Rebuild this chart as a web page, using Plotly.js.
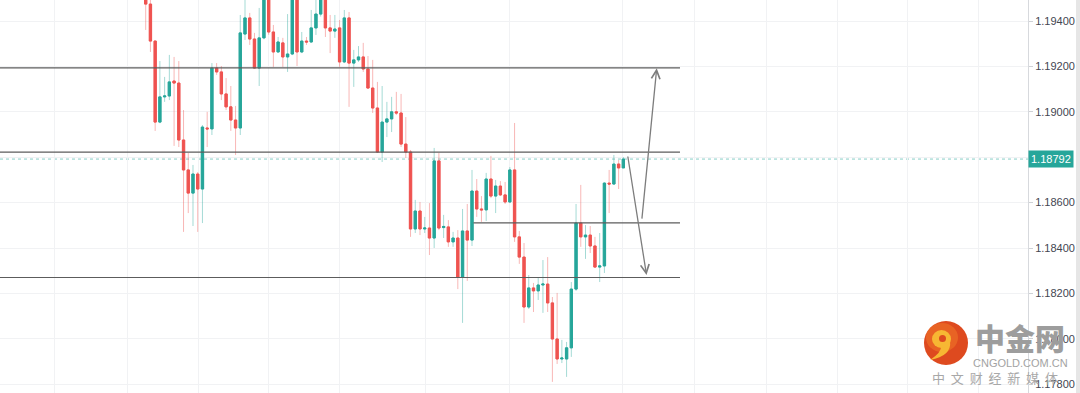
<!DOCTYPE html>
<html>
<head>
<meta charset="utf-8">
<script src="https://cdn.plot.ly/plotly-3.0.1.min.js"></script>
<style>html,body{margin:0;padding:0;background:#fff;}#chart{width:1080px;height:393px;}</style>
</head>
<body>
<div id="chart"></div>
<script>
// ---- data ----
const opens = [1.19528,1.19475,1.19312,1.18955,1.19066,1.19070,1.19136,1.19127,1.18876,1.18744,
1.18642,1.18726,1.18660,1.18929,1.18925,1.19193,1.19176,1.19079,1.19022,1.18964,
1.18929,1.19343,1.19414,1.19321,1.19193,1.19326,1.19510,1.19352,1.19264,1.19304,
1.19242,1.19255,1.19510,1.19264,1.19312,1.19308,1.19370,1.19431,1.19505,1.19370,
1.19356,1.19370,1.19220,1.19414,1.19215,1.19229,1.19242,1.19189,1.19105,1.19017,
1.18823,1.18955,1.18969,1.19000,1.18995,1.18858,1.18823,1.18484,1.18563,1.18484,
1.18488,1.18444,1.18784,1.18490,1.18493,1.18427,1.18444,1.18272,1.18475,1.18435,
1.18651,1.18572,1.18568,1.18704,1.18629,1.18673,1.18634,1.18603,1.18744,1.18449,
1.18360,1.18140,1.18224,1.18211,1.18237,1.18241,1.18158,1.17999,1.17911,1.17911,
1.17960,1.18219,1.18510,1.18449,1.18457,1.18409,1.18316,1.18321,1.18686,1.18682,
1.18770,1.18753];
const highs = [1.19537,1.19500,1.19315,1.19224,1.19154,1.19251,1.19242,1.19224,1.19008,1.18819,
1.18766,1.18735,1.18942,1.19000,1.19215,1.19215,1.19202,1.19149,1.19114,1.19026,
1.19427,1.19502,1.19436,1.19348,1.19458,1.19540,1.19530,1.19383,1.19330,1.19326,
1.19431,1.19540,1.19530,1.19352,1.19330,1.19449,1.19493,1.19530,1.19520,1.19427,
1.19427,1.19405,1.19449,1.19440,1.19273,1.19290,1.19304,1.19246,1.19229,1.19132,
1.19114,1.19044,1.19066,1.19088,1.19079,1.18977,1.18832,1.18612,1.18603,1.18537,
1.18598,1.18841,1.18819,1.18546,1.18523,1.18471,1.18479,1.18572,1.18594,1.18744,
1.18704,1.18629,1.18731,1.18806,1.18700,1.18695,1.18691,1.18757,1.18951,1.18475,
1.18422,1.18281,1.18246,1.18272,1.18347,1.18360,1.18184,1.18202,1.17995,1.17986,
1.18250,1.18594,1.18678,1.18501,1.18497,1.18449,1.18466,1.18690,1.18744,1.18810,
1.18788,1.18801];
const lows = [1.19361,1.19264,1.18916,1.18950,1.19044,1.19052,1.18850,1.18845,1.18471,1.18554,
1.18497,1.18471,1.18510,1.18845,1.18898,1.19163,1.19052,1.19008,1.18916,1.18810,
1.18898,1.19317,1.19295,1.19189,1.19114,1.19320,1.19340,1.19198,1.19260,1.19198,
1.19176,1.19250,1.19202,1.19259,1.19295,1.19304,1.19339,1.19420,1.19330,1.19259,
1.19326,1.19198,1.19215,1.19022,1.19110,1.19220,1.19176,1.19101,1.18995,1.18819,
1.18779,1.18889,1.18911,1.18986,1.18845,1.18797,1.18449,1.18466,1.18457,1.18466,
1.18369,1.18400,1.18479,1.18444,1.18405,1.18405,1.18219,1.18070,1.18255,1.18409,
1.18537,1.18515,1.18519,1.18620,1.18554,1.18629,1.18594,1.18598,1.18427,1.18330,
1.18070,1.18131,1.18118,1.18171,1.18114,1.18118,1.17810,1.17889,1.17893,1.17832,
1.17920,1.18211,1.18405,1.18352,1.18378,1.18312,1.18250,1.18290,1.18554,1.18678,
1.18660,1.18753];
const closes = [1.19475,1.19312,1.18955,1.19066,1.19070,1.19132,1.19127,1.18876,1.18744,1.18642,
1.18726,1.18660,1.18933,1.18925,1.19193,1.19176,1.19079,1.19022,1.18964,1.18929,
1.19348,1.19414,1.19321,1.19193,1.19326,1.19515,1.19352,1.19264,1.19308,1.19242,
1.19255,1.19510,1.19264,1.19312,1.19308,1.19370,1.19431,1.19505,1.19370,1.19356,
1.19365,1.19220,1.19414,1.19215,1.19229,1.19242,1.19189,1.19105,1.19017,1.18823,
1.18955,1.18969,1.19000,1.18995,1.18858,1.18823,1.18484,1.18563,1.18484,1.18488,
1.18444,1.18784,1.18488,1.18495,1.18427,1.18444,1.18272,1.18475,1.18435,1.18651,
1.18572,1.18568,1.18704,1.18629,1.18673,1.18634,1.18603,1.18744,1.18449,1.18360,
1.18140,1.18224,1.18211,1.18237,1.18241,1.18158,1.17999,1.17911,1.17915,1.17960,
1.18219,1.18510,1.18449,1.18457,1.18409,1.18316,1.18321,1.18686,1.18682,1.18770,
1.18753,1.18792];
const yTicks = [1.178,1.180,1.182,1.184,1.186,1.188,1.190,1.192,1.194];
const yTickText = ['1.17800','1.18000','1.18200','1.18400','1.18600','','1.19000','1.19200','1.19400'];
const lastPrice = 1.18792;
const levelTop = 1.19194, levelUpper = 1.18823, levelMid = 1.18511, levelLow = 1.18270;
const upArrow = {from:[104.9, 1.18523], to:[108.06, 1.19192]};
const downArrow = {from:[101.9, 1.18810], to:[105.9, 1.18281]};

// ---- build ----
const bars = opens.map((_, i) => i);
const bodyHigh = opens.map((o, i) => Math.max(o, closes[i]));
const bodyLow = opens.map((o, i) => Math.min(o, closes[i]));
const UP = '#26a69a', DN = '#ef5350';

const wicks = {
  type:'candlestick', x:bars, open:opens, high:highs, low:lows, close:closes,
  increasing:{line:{color:'rgba(38,166,154,0.42)', width:1}, fillcolor:'rgba(38,166,154,0.42)'},
  decreasing:{line:{color:'rgba(239,83,80,0.42)', width:1}, fillcolor:'rgba(239,83,80,0.42)'},
  whiskerwidth:0, hoverinfo:'skip', showlegend:false
};
const bodies = {
  type:'candlestick', x:bars, open:opens, high:bodyHigh, low:bodyLow, close:closes,
  increasing:{line:{color:UP, width:1}, fillcolor:UP},
  decreasing:{line:{color:DN, width:1}, fillcolor:DN},
  whiskerwidth:0, hoverinfo:'skip', showlegend:false
};

const PW = 1028, PH = 393;
const LINE = '#5c5c5c';
const xLeft = -31, xRight = 112.98, xMidStart = 69.3;

const shapes = [
  {type:'line', xref:'paper', yref:'y', x0:0, x1:1, y0:lastPrice, y1:lastPrice,
   line:{color:'rgba(38,166,154,0.55)', width:1, dash:'dot'}, layer:'between'},
  {type:'line', xref:'x', yref:'y', x0:xLeft, x1:xRight, y0:levelTop, y1:levelTop, line:{color:LINE, width:1.2}},
  {type:'line', xref:'x', yref:'y', x0:xLeft, x1:xRight, y0:levelUpper, y1:levelUpper, line:{color:LINE, width:1.2}},
  {type:'line', xref:'x', yref:'y', x0:xMidStart, x1:xRight, y0:levelMid, y1:levelMid, line:{color:LINE, width:1.2}},
  {type:'line', xref:'x', yref:'y', x0:xLeft, x1:xRight, y0:levelLow, y1:levelLow, line:{color:LINE, width:1.2}},
  // right edge strip
  {type:'rect', xref:'paper', yref:'paper', xsizemode:'pixel', xanchor:0, x0:1076, x1:1080, y0:0, y1:1,
   fillcolor:'#e6e6e6', line:{width:0}},
  // logo
  {type:'circle', xref:'paper', yref:'paper', xsizemode:'pixel', ysizemode:'pixel', xanchor:0, yanchor:1,
   x0:924, x1:968, y0:-321, y1:-365, fillcolor:'#de4a1f', line:{width:0}},
  {type:'circle', xref:'paper', yref:'paper', xsizemode:'pixel', ysizemode:'pixel', xanchor:0, yanchor:1,
   x0:926, x1:958, y0:-323, y1:-352, fillcolor:'rgba(240,120,40,0.55)', line:{width:0}},
  {type:'path', xref:'paper', yref:'paper', xsizemode:'pixel', ysizemode:'pixel', xanchor:0, yanchor:1,
   path:'M 950 -341 Q 952 -356 930 -360 Q 942 -352 941 -346 Z', fillcolor:'#f7b733', line:{width:0}},
  {type:'circle', xref:'paper', yref:'paper', xsizemode:'pixel', ysizemode:'pixel', xanchor:0, yanchor:1,
   x0:932, x1:951, y0:-330, y1:-348, fillcolor:'#f7b733', line:{width:0}},
  {type:'circle', xref:'paper', yref:'paper', xsizemode:'pixel', ysizemode:'pixel', xanchor:0, yanchor:1,
   x0:939, x1:946, y0:-335, y1:-342, fillcolor:'#de4a1f', line:{width:0}}
];

const annotations = [
  {x:upArrow.to[0], y:upArrow.to[1], ax:upArrow.from[0], ay:upArrow.from[1], xref:'x', yref:'y', axref:'x', ayref:'y',
   showarrow:true, arrowhead:5, arrowsize:1.3, arrowwidth:1.3, arrowcolor:'#7d7d7d', text:'', standoff:0},
  {x:downArrow.to[0], y:downArrow.to[1], ax:downArrow.from[0], ay:downArrow.from[1], xref:'x', yref:'y', axref:'x', ayref:'y',
   showarrow:true, arrowhead:5, arrowsize:1.3, arrowwidth:1.3, arrowcolor:'#7d7d7d', text:'', standoff:0},
  {xref:'paper', yref:'y', x:1, y:lastPrice, xanchor:'left', yanchor:'middle', showarrow:false,
   text:lastPrice.toFixed(5), bgcolor:UP, borderpad:2, font:{family:'Liberation Sans', size:11, color:'#ffffff'}},
  {xref:'paper', yref:'paper', x:1020/PW, y:1-337/PH, xanchor:'center', yanchor:'middle', showarrow:false,
   text:'中金网', font:{family:'Noto Sans CJK SC', size:30, color:'#9d9d9d', weight:900}},
  {xref:'paper', yref:'paper', x:1020/PW, y:1-363/PH, xanchor:'center', yanchor:'middle', showarrow:false,
   text:'CNGOLD.COM.CN', font:{family:'Liberation Sans', size:11, color:'#a3a3a3'}},
  {xref:'paper', yref:'paper', x:995/PW, y:1-377/PH, xanchor:'center', yanchor:'middle', showarrow:false,
   text:'中&nbsp;&nbsp;文&nbsp;&nbsp;财&nbsp;&nbsp;经&nbsp;&nbsp;新&nbsp;&nbsp;媒&nbsp;&nbsp;体', font:{family:'Noto Sans CJK SC', size:13, color:'#a8a8a8'}}
];

const layout = {
  width:1080, height:393,
  margin:{l:0, r:52, t:0, b:0, pad:0},
  paper_bgcolor:'#ffffff', plot_bgcolor:'#ffffff',
  showlegend:false, hovermode:false, dragmode:false,
  xaxis:{range:[-30.81, 186.57], rangeslider:{visible:false}, showticklabels:false, ticks:'',
    tickvals:[-19.2,-3.95,11.06,25.86,41.08,59.06,77.03,100.92,116.14,131.3,146.3,161.0,176.0],
    showgrid:true, gridcolor:'#f1f2f4', gridwidth:1, zeroline:false, showline:false, fixedrange:true},
  yaxis:{side:'right', range:[1.17761, 1.19493], tickvals:yTicks, ticktext:yTickText,
    ticks:'outside', ticklen:4, tickcolor:'#cfd2d6', showline:true, linecolor:'#d7d9dd', linewidth:1,
    showgrid:true, gridcolor:'#f1f2f4', zeroline:false, fixedrange:true,
    tickfont:{family:'Liberation Sans', size:11, color:'#434651'}},
  shapes:shapes, annotations:annotations
};

Plotly.newPlot('chart', [wicks, bodies], layout, {staticPlot:true, displayModeBar:false});
</script>
</body>
</html>
